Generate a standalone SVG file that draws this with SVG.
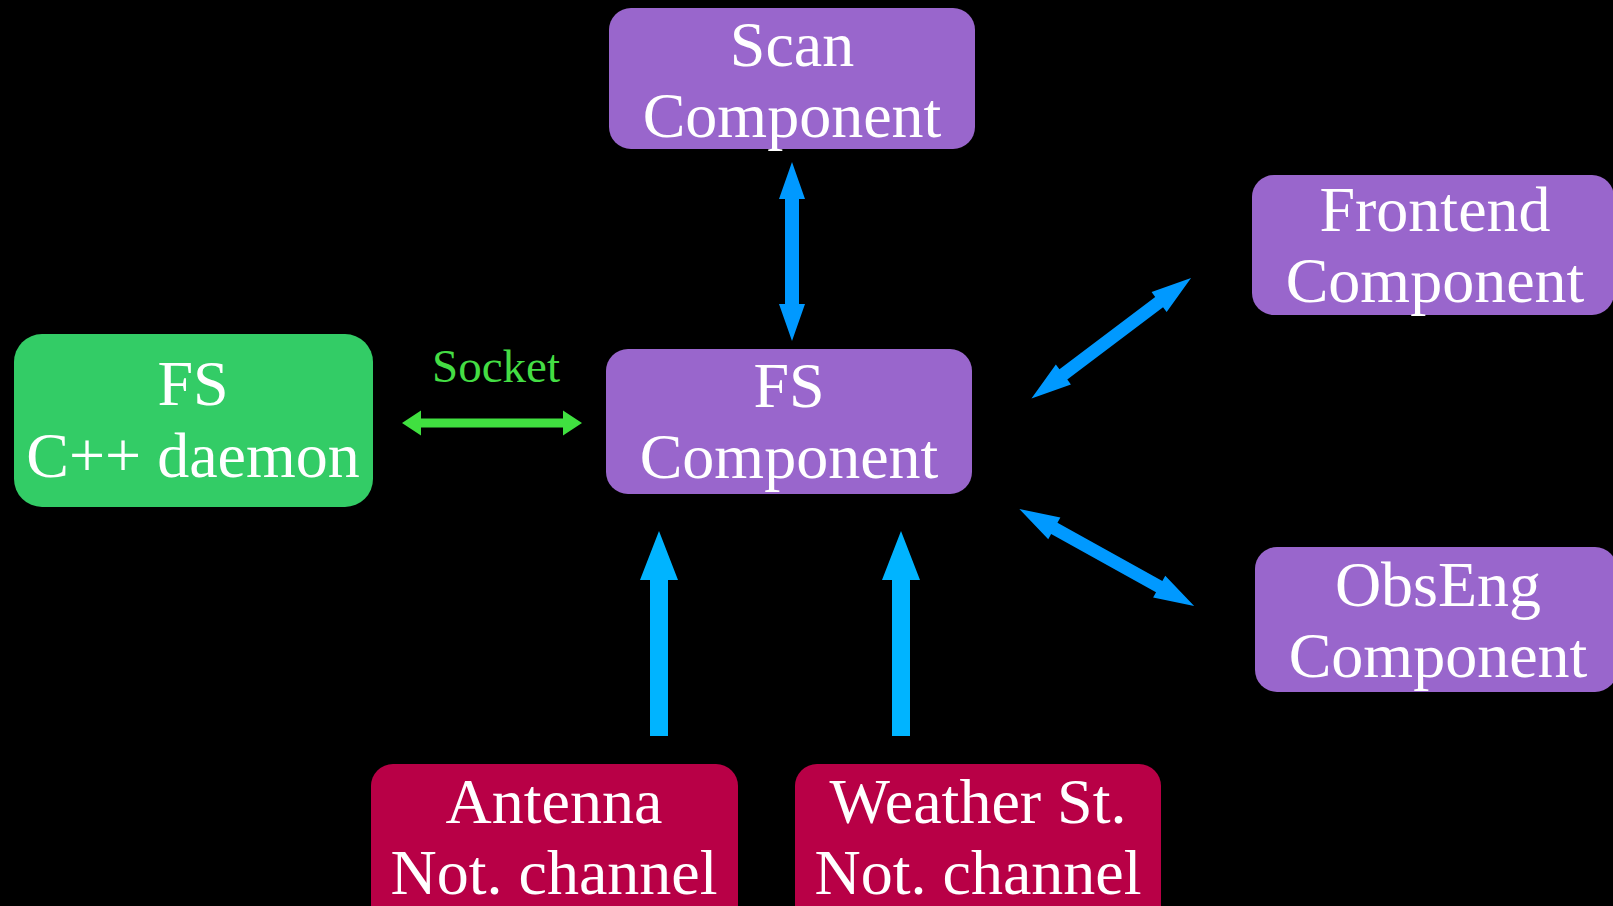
<svg xmlns="http://www.w3.org/2000/svg" width="1613" height="906" viewBox="0 0 1613 906">
  <style>
    .t { font-family: "Liberation Serif", "Times New Roman", serif; font-size: 64px; fill: #ffffff; text-anchor: middle; }
    .purple { fill: #9966cc; }
    .green { fill: #33cc66; }
    .red { fill: #b80046; }
    .blue { fill: #0099ff; }
    .cyan { fill: #00b4ff; }
    .lime { fill: #40e040; }
    .lbl { font-family: "Liberation Serif", "Times New Roman", serif; font-size: 47px; fill: #44dd44; text-anchor: middle; }
  </style>
  <defs>
    <polygon id="dbl" points="-100,0 -60,-12.5 -60,-6.5 60,-6.5 60,-12.5 100,0 60,12.5 60,6.5 -60,6.5 -60,12.5"/>
  </defs>
  <rect x="0" y="0" width="1613" height="906" fill="#000000"/>

  <g id="connectors">
    <polygon class="blue" points="792,162 805,199 799,199 799,304 805,304 792,341 779,304 785,304 785,199 779,199"/>
    <polygon class="lime" points="402,423 421,410.5 421,418.5 563,418.5 563,410.5 582,423 563,435.5 563,427.5 421,427.5 421,435.5"/>
    <text class="lbl" x="496" y="382">Socket</text>
    <use href="#dbl" class="blue" transform="translate(1111.25,338.25) rotate(-37.07)"/>
    <use href="#dbl" class="blue" transform="translate(1106.75,557.5) rotate(29.07)"/>
    <polygon class="cyan" points="659,531 678,580 668,580 668,736 650,736 650,580 640,580"/>
    <polygon class="cyan" points="901,531 920,580 910,580 910,736 892,736 892,580 882,580"/>
  </g>

  <g id="scan">
    <rect class="purple" x="609" y="8" width="366" height="141" rx="22"/>
    <text class="t" x="792" y="66">Scan</text>
    <text class="t" x="792" y="137">Component</text>
  </g>

  <g id="fs-component">
    <rect class="purple" x="606" y="349" width="366" height="145" rx="22"/>
    <text class="t" x="789" y="407">FS</text>
    <text class="t" x="789" y="478">Component</text>
  </g>

  <g id="fs-daemon">
    <rect class="green" x="14" y="334" width="359" height="173" rx="28"/>
    <text class="t" x="193" y="405">FS</text>
    <text class="t" x="193" y="477">C++ daemon</text>
  </g>

  <g id="frontend">
    <rect class="purple" x="1252" y="175" width="362" height="140" rx="22"/>
    <text class="t" x="1435" y="231">Frontend</text>
    <text class="t" x="1435" y="302">Component</text>
  </g>

  <g id="obseng">
    <rect class="purple" x="1255" y="547" width="362" height="145" rx="22"/>
    <text class="t" x="1438" y="606">ObsEng</text>
    <text class="t" x="1438" y="677">Component</text>
  </g>

  <g id="antenna">
    <rect class="red" x="371" y="764" width="367" height="170" rx="22"/>
    <text class="t" x="554" y="823">Antenna</text>
    <text class="t" x="554" y="894">Not. channel</text>
  </g>

  <g id="weather">
    <rect class="red" x="795" y="764" width="366" height="170" rx="22"/>
    <text class="t" x="978" y="823">Weather St.</text>
    <text class="t" x="978" y="894">Not. channel</text>
  </g>
</svg>
